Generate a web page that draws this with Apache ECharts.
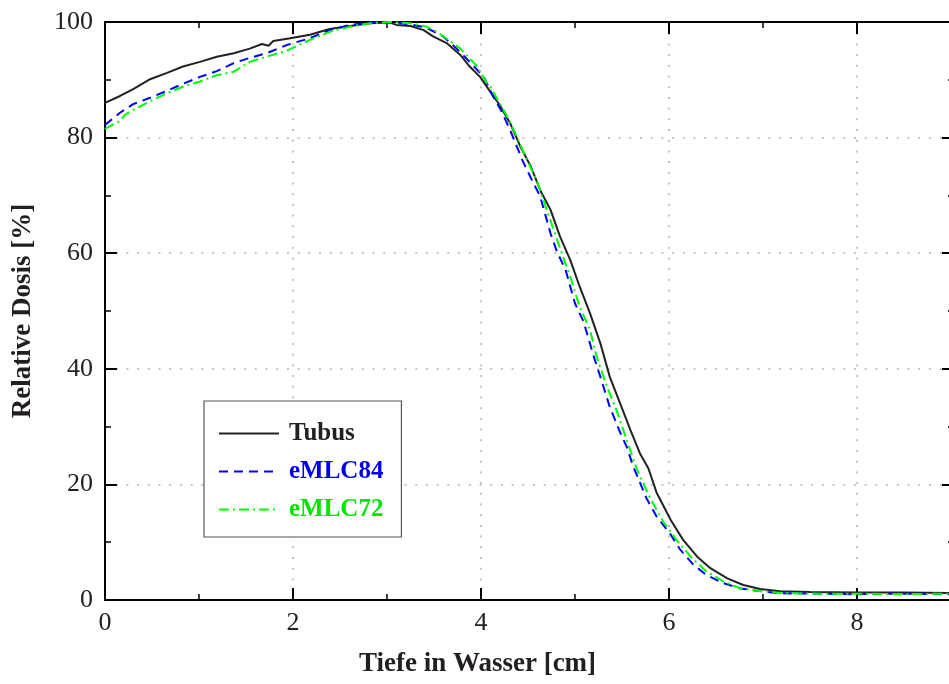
<!DOCTYPE html>
<html>
<head>
<meta charset="utf-8">
<script src="https://cdn.jsdelivr.net/npm/echarts@6/dist/echarts.min.js"></script>
<style>
html,body{margin:0;padding:0;background:#fff;}
#chart{width:949px;height:684px;}
</style>
</head>
<body>
<div id="chart"></div>
<script>
// ---- data ----
const seriesNames = ['Tubus', 'eMLC84', 'eMLC72'];
const xTicks = [0, 2, 4, 6, 8];
const yTicks = [0, 20, 40, 60, 80, 100];

const tubusDepth = [0,0.16,0.30,0.48,0.66,0.83,1.01,1.19,1.37,1.54,1.67,1.74,1.79,1.97,2.18,2.39,2.61,2.82,3.03,3.10,3.25,3.39,3.49,3.64,3.78,3.88,3.99,4.10,4.20,4.31,4.42,4.53,4.63,4.74,4.84,4.95,5.05,5.16,5.27,5.37,5.48,5.59,5.69,5.78,5.87,6.02,6.15,6.30,6.44,6.62,6.79,6.97,7.18,7.5,8.0,8.5,9.0];
const tubusDose  = [86.0,87.2,88.4,90.1,91.2,92.3,93.1,94.0,94.6,95.4,96.2,95.9,96.7,97.2,97.8,98.8,99.3,99.8,99.9,99.5,99.3,98.6,97.5,96.3,94.3,92.3,90.5,87.9,85.6,82.5,78.4,75.0,70.9,67.5,62.9,58.8,54.2,49.6,44.4,38.6,34.0,29.4,25.4,22.8,18.5,13.8,10.4,7.5,5.5,3.75,2.6,1.9,1.5,1.4,1.3,1.3,1.2];

const emlc84Depth = [0,0.16,0.30,0.48,0.66,0.83,1.01,1.19,1.37,1.54,1.72,1.93,2.18,2.39,2.61,2.82,3.03,3.25,3.42,3.60,3.74,3.88,4.03,4.12,4.22,4.31,4.44,4.54,4.63,4.74,4.81,4.90,5.00,5.09,5.20,5.27,5.37,5.48,5.55,5.62,5.76,5.87,6.01,6.12,6.26,6.40,6.58,6.76,6.94,7.18,7.6,8.0,8.5,9.0];
const emlc84Dose  = [82.2,84.3,85.8,86.9,88.1,89.3,90.5,91.5,92.9,93.8,94.6,96.0,97.2,98.6,99.5,99.9,100,99.6,99.0,97.5,95.4,93.1,90.5,87.4,84.5,81.3,76.1,72.7,69.8,63.4,60.2,57.1,51.3,48.2,42.1,38.6,33.4,29.0,26.5,23.1,17.6,14.4,11.5,8.7,6.1,4.3,2.9,2.0,1.6,1.15,1.1,1.0,1.1,1.0];

const emlc72Depth = [0,0.16,0.21,0.30,0.48,0.66,0.83,1.01,1.19,1.37,1.54,1.72,1.93,2.18,2.39,2.61,2.82,3.03,3.25,3.42,3.53,3.68,3.78,3.96,4.06,4.10,4.27,4.38,4.49,4.59,4.70,4.81,4.91,4.95,5.05,5.16,5.23,5.34,5.44,5.55,5.66,5.80,5.94,6.08,6.23,6.40,6.58,6.76,6.94,7.2,7.6,8.0,8.5,9.0];
const emlc72Dose  = [81.5,82.9,83.9,84.8,86.3,87.7,88.8,89.7,90.8,91.4,93.1,94.0,95.0,96.9,98.3,99.2,99.8,100,99.8,99.2,98.3,96.6,95.4,92.3,89.5,88.8,83.9,80.2,76.1,72.7,67.5,62.3,57.7,55.9,50.7,46.7,42.1,36.9,32.9,27.7,22.5,17.6,13.5,10.4,7.5,4.9,3.2,2.0,1.6,1.2,1.1,1.1,1.0,1.1];

const pairs = (xs, ys) => xs.map((x, i) => [x, ys[i]]);

const FONT = '"Liberation Serif", "DejaVu Serif", serif';
const colors = ['#222222', '#0000ff', '#00ff00'];
const textColors = ['#231f20', '#0000ee', '#00e600'];

// plot spans 105..954 px; 0..8 spans 752 px -> 94 px per cm
const X_MAX = 849 / 94;

const splitLine = { show: true, lineStyle: { color: '#b4b4b4', width: 1.5, type: [2, 8.7] } };
const axisLine = { show: true, onZero: false, lineStyle: { color: '#000', width: 2 } };
const tick = { show: true, inside: true, length: 12, lineStyle: { color: '#000', width: 2 } };
const minorTick = { show: true, splitNumber: 2, length: 6, lineStyle: { color: '#000', width: 1.5 } };

const chart = echarts.init(document.getElementById('chart'), null, { renderer: 'canvas' });
chart.setOption({
  animation: false,
  backgroundColor: '#fff',
  grid: { left: 105, top: 22, width: 849, height: 578, containLabel: false, outerBoundsMode: 'none' },
  xAxis: [
    {
      type: 'value', min: 0, max: X_MAX, interval: 2, position: 'bottom',
      axisLine, axisTick: tick, minorTick, splitLine,
      axisLabel: { show: true, color: '#222', fontFamily: FONT, fontSize: 26, margin: 10, showMaxLabel: false,
        formatter: v => (xTicks.indexOf(v) >= 0 ? String(v) : '') },
      name: 'Tiefe in Wasser [cm]', nameLocation: 'middle', nameGap: 51,
      nameTextStyle: { fontFamily: FONT, fontSize: 27, fontWeight: 'bold', color: '#231f20', padding: [0, 104, 0, 0] }
    },
    {
      type: 'value', min: 0, max: X_MAX, interval: 2, position: 'top',
      axisLine, axisTick: tick, minorTick, splitLine: { show: false }, axisLabel: { show: false }
    }
  ],
  yAxis: [
    {
      type: 'value', min: 0, max: 100, interval: 20, position: 'left',
      axisLine, axisTick: tick, minorTick, splitLine,
      axisLabel: { show: true, color: '#222', fontFamily: FONT, fontSize: 26, margin: 12,
        formatter: v => (yTicks.indexOf(v) >= 0 ? String(v) : '') },
      name: 'Relative Dosis [%]', nameLocation: 'middle', nameGap: 68, nameRotate: 90,
      nameTextStyle: { fontFamily: FONT, fontSize: 27, fontWeight: 'bold', color: '#231f20' }
    },
    {
      type: 'value', min: 0, max: 100, interval: 20, position: 'right',
      axisLine, axisTick: tick, minorTick, splitLine: { show: false }, axisLabel: { show: false }
    }
  ],
  legend: {
    orient: 'vertical', left: 204, top: 401,
    padding: [20, 18, 15, 14],
    itemGap: 13, itemWidth: 60, itemHeight: 22,
    backgroundColor: '#fff', borderColor: '#555', borderWidth: 1.2, borderRadius: 0,
    itemStyle: { opacity: 0 },
    textStyle: { fontFamily: FONT, fontSize: 25, fontWeight: 'bold', lineHeight: 22, padding: [0, 0, 0, 5] },
    data: seriesNames.map((n, i) => ({ name: n, itemStyle: { opacity: 0 }, textStyle: { color: textColors[i] } }))
  },
  series: [
    { name: seriesNames[0], type: 'line', data: pairs(tubusDepth, tubusDose), xAxisIndex: 0, yAxisIndex: 0,
      symbol: 'none', lineStyle: { color: colors[0], width: 2 }, itemStyle: { color: colors[0] }, z: 3 },
    { name: seriesNames[1], type: 'line', data: pairs(emlc84Depth, emlc84Dose), xAxisIndex: 0, yAxisIndex: 0,
      symbol: 'none', lineStyle: { color: colors[1], width: 2, type: [9, 6] }, itemStyle: { color: colors[1] }, z: 4 },
    { name: seriesNames[2], type: 'line', data: pairs(emlc72Depth, emlc72Dose), xAxisIndex: 0, yAxisIndex: 0,
      symbol: 'none', lineStyle: { color: colors[2], width: 2, type: [10, 4, 2, 4] }, itemStyle: { color: colors[2] }, z: 5 }
  ]
});
</script>
</body>
</html>
